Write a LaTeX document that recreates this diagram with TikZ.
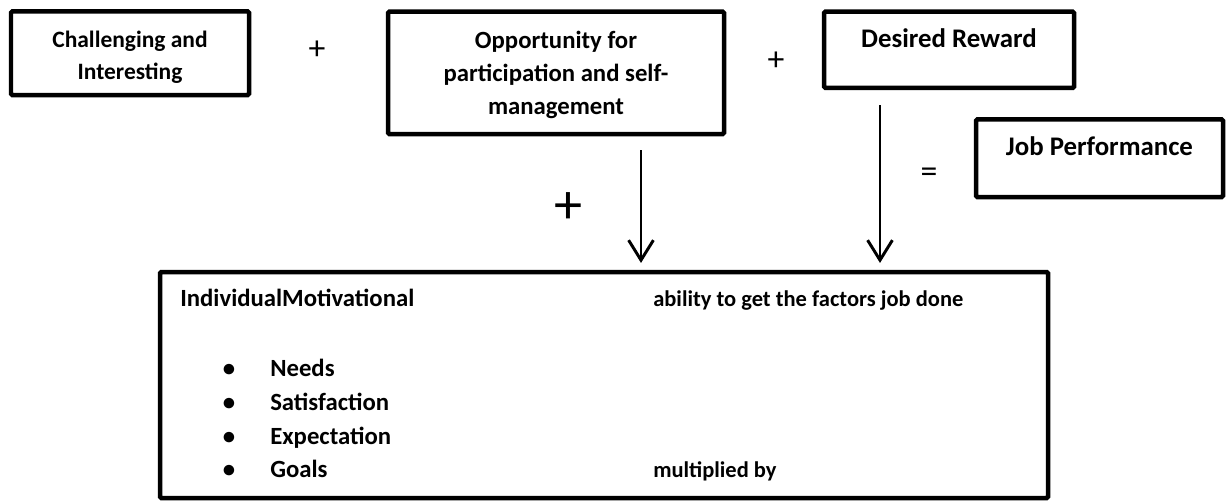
\documentclass[tikz,border=0pt]{standalone}
\usepackage{fontspec}
\setmainfont{Carlito}
\usetikzlibrary{arrows.meta}
\tikzstyle{factorbox}=[rectangle,draw,line width=3.2pt,inner sep=0,rounded corners=1pt]
\tikzstyle{sign}=[font=\fontsize{24}{24}\selectfont]
\tikzstyle{small}=[font=\fontsize{16}{22}\selectfont\bfseries]
\tikzstyle{large}=[font=\fontsize{19.1}{23.5}\selectfont\bfseries]
\tikzstyle{flow}=[line width=2.1pt,-{Straight Barb[length=5mm,width=6.2mm]},shorten >=0.17cm]
\newcommand{\boxnode}[6][]{\node[factorbox,#1] (#2) at (#3) {\parbox[c][#5][t]{#4}{\centering\rule{0pt}{0.91cm}#6}};}
\tikzstyle{every node}=[font=\fontsize{17.6}{23.5}\selectfont\bfseries, inner sep=0]

\begin{document}
\begin{tikzpicture}
\useasboundingbox (0,0) rectangle (30.65,-12.55);
\boxnode[font=\fontsize{16.7}{22.8}\selectfont\bfseries]{chal}{3.25,-1.33}{5.95cm}{2.09cm}{Challenging and\\ Interesting}
\boxnode{part}{13.9,-1.82}{8.4cm}{3.06cm}{Opportunity for\\ participation and self-\\ management}
\boxnode[large]{reward}{23.725,-1.244}{6.25cm}{1.91cm}{Desired Reward}
\boxnode[large]{perf}{27.4875,-3.956}{6.175cm}{1.94cm}{Job Performance}

\node[sign] (plusa) at (7.925,-1.2625) {+};
\node[sign] (plusb) at (19.4,-1.5375) {+};
\node[sign] (equal) at (23.225,-4.375) {=};
\node[font=\fontsize{40}{40}\selectfont] (plusc) at (14.2,-5.2) {+};

\node[factorbox, minimum width=22.2cm, minimum height=5.65cm] (motiv) at (15.1,-9.625) {};
\node[anchor=base west] (indiv) at (4.5,-7.65) {IndividualMotivational};
\node[small, anchor=base west] (abil) at (16.325,-7.65) {ability to get the factors job done};
\node[small, anchor=base west] (mult) at (16.325,-11.925) {multiplied by};

\node[anchor=base] (dota) at (5.725,-9.4) {\textbullet};
\node[anchor=base] (dotb) at (5.725,-10.25) {\textbullet};
\node[anchor=base] (dotc) at (5.725,-11.1) {\textbullet};
\node[anchor=base] (dotd) at (5.725,-11.925) {\textbullet};
\node[anchor=base west] (needs) at (6.75,-9.4) {Needs};
\node[anchor=base west] (satis) at (6.75,-10.25) {Satisfaction};
\node[anchor=base west] (expect) at (6.75,-11.1) {Expectation};
\node[anchor=base west] (goals) at (6.75,-11.925) {Goals};

\coordinate (srca) at (16.025,-3.75);
\coordinate (srcb) at (22.0,-2.625);
\draw[flow] (srca) -- (srca |- motiv.north);
\draw[flow] (srcb) -- (srcb |- motiv.north);
\end{tikzpicture}
\end{document}
